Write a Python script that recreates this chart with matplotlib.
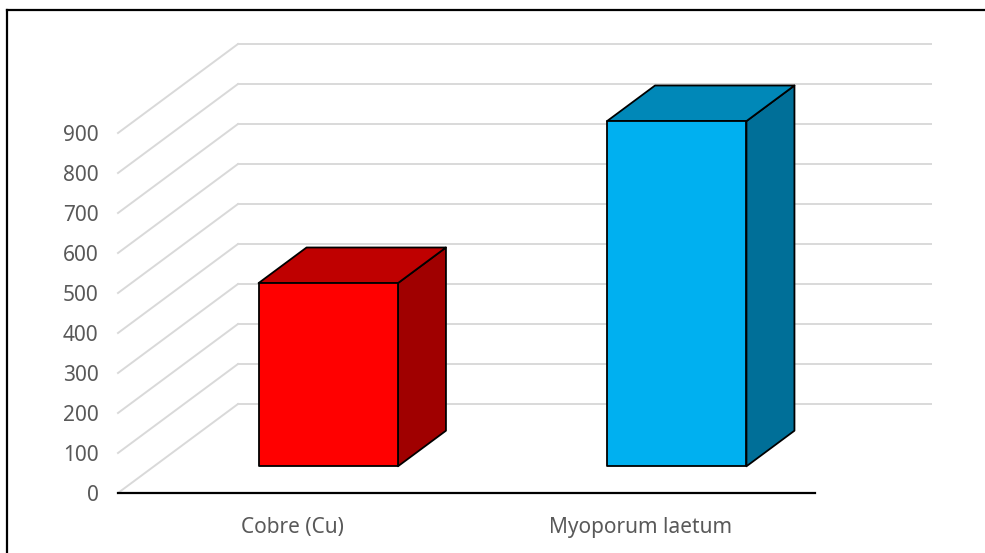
import matplotlib.pyplot as plt
from matplotlib.lines import Line2D

plt.rcParams['font.family'] = ['Noto Sans', 'DejaVu Sans']

categories = ['Cobre (Cu)', 'Myoporum laetum']
values = [458, 863]
front_colors = ['#FF0000', '#00B0F0']
top_colors = ['#BF0000', '#0088B8']
side_colors = ['#A00000', '#006F98']
yticks = [0, 100, 200, 300, 400, 500, 600, 700, 800, 900]

W, H = 985, 553
fig = plt.figure(figsize=(W / 100, H / 100), dpi=100)

# front plane: x 118..815 px for 2 categories, value 0 at y=493 px, 0.4 px per unit
cat_px = (815 - 118) / 2
xmin, xmax = -0.5, 1.85
ymin, ymax = 0, 1200
ax = fig.add_axes([118 / W, (H - 493) / H, (xmax - xmin) * cat_px / W, (ymax - ymin) * 0.4 / H])
ax.set_xlim(xmin, xmax)
ax.set_ylim(ymin, ymax)

# depth of the oblique projection, in data units
DX = 120 / cat_px
DY = 89 / 0.4
x_end = -0.5 + (931 - 118) / cat_px

grid_c = '#D9D9D9'
for v in yticks:
    ax.plot([-0.5, -0.5 + DX], [v, v + DY], color=grid_c, lw=1.4, clip_on=False, zorder=1)
    ax.plot([-0.5 + DX, x_end], [v + DY, v + DY], color=grid_c, lw=1.4, clip_on=False, zorder=1)

hw = 0.2
d0, d1 = 0.3, 0.7
for i, v in enumerate(values):
    x0 = i - hw + d0 * DX
    x1 = i + hw + d0 * DX
    yb = d0 * DY
    yt = yb + v
    ddx = (d1 - d0) * DX
    ddy = (d1 - d0) * DY
    kw = dict(edgecolor='black', linewidth=1.3, joinstyle='round', clip_on=False, zorder=3)
    ax.fill([x1, x1, x1 + ddx, x1 + ddx], [yb, yt, yt + ddy, yb + ddy], facecolor=side_colors[i], **kw)
    ax.fill([x0, x1, x1 + ddx, x0 + ddx], [yt, yt, yt + ddy, yt + ddy], facecolor=top_colors[i], **kw)
    ax.fill([x0, x1, x1, x0], [yb, yb, yt, yt], facecolor=front_colors[i], **kw)

ax.set_xticks(range(len(categories)))
ax.set_xticklabels(categories)
ax.set_yticks(yticks)
ax.tick_params(length=0, labelsize=15, colors='#595959')
ax.tick_params(axis='y', pad=14)
ax.tick_params(axis='x', pad=17)
for s in ['top', 'right', 'left']:
    ax.spines[s].set_visible(False)
ax.spines['bottom'].set_bounds(-0.5, 1.5)
ax.spines['bottom'].set_linewidth(1.6)
ax.spines['bottom'].set_color('black')
ax.patch.set_alpha(0)

# outer frame (only top and left edges visible)
fig.add_artist(Line2D([7 / W, 1], [1 - 10 / H, 1 - 10 / H], color='black', lw=1.6))
fig.add_artist(Line2D([7 / W, 7 / W], [0, 1 - 10 / H], color='black', lw=1.6))

fig.savefig('out.png', dpi=100)
